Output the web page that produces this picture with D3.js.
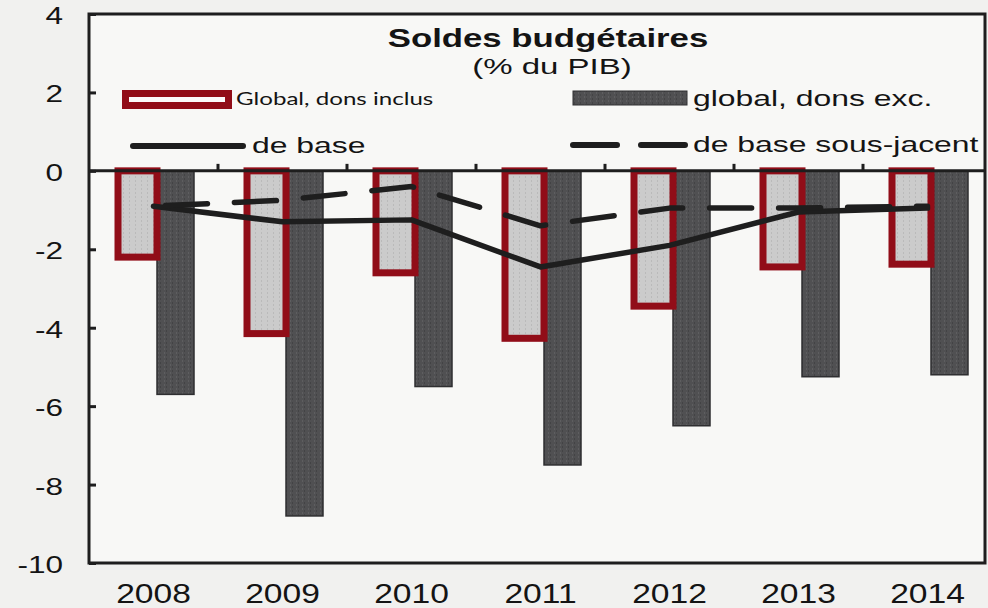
<!DOCTYPE html>
<html>
<head>
<meta charset="utf-8">
<script src="https://cdn.jsdelivr.net/npm/d3@7/dist/d3.min.js"></script>
<style>
  html, body { margin: 0; padding: 0; background: #f1f1ef; }
  svg { display: block; }
</style>
</head>
<body>
<svg id="chart" width="988" height="608"></svg>
<script>
// ---- Data ----
const years = ["2008", "2009", "2010", "2011", "2012", "2013", "2014"];
const globalInclus = [-2.2, -4.15, -2.6, -4.27, -3.45, -2.45, -2.38];   // Global, dons inclus
const globalExc    = [-5.7, -8.8, -5.5, -7.5, -6.5, -5.25, -5.2];        // global, dons exc.
const deBase       = [-0.9, -1.3, -1.25, -2.45, -1.9, -1.05, -0.95];     // de base
const sousJacent   = [-0.9, -0.75, -0.4, -1.4, -0.95, -0.95, -0.9];      // de base sous-jacent
const yTicks = [-10, -8, -6, -4, -2, 0, 2, 4];
const title = "Soldes budgétaires";
const subtitle = "(% du PIB)";
const legendLabels = ["Global, dons inclus", "global, dons exc.", "de base", "de base sous-jacent"];

// ---- Layout ----
const svg = d3.select("#chart");
const plot = { left: 89, top: 14, right: 985, bottom: 563 };
const x = d3.scaleBand().domain(years).range([89, 992]).paddingInner(0).paddingOuter(0);
const y = d3.scaleLinear().domain([-10, 4]).range([plot.bottom, plot.top]);
const bw = x.bandwidth();

const RED = "#910d18";
const INK = "#1e1e1e";

// patterns for scanned texture
const defs = svg.append("defs");
const pd = defs.append("pattern").attr("id", "darkTex").attr("patternUnits", "userSpaceOnUse")
  .attr("width", 6).attr("height", 4);
pd.append("rect").attr("width", 6).attr("height", 4).attr("fill", "#505052");
pd.append("rect").attr("x", 2).attr("width", 1).attr("height", 2).attr("fill", "#5e5e60");
pd.append("rect").attr("x", 4).attr("y", 2).attr("width", 1).attr("height", 2).attr("fill", "#434345");
const pl = defs.append("pattern").attr("id", "lightTex").attr("patternUnits", "userSpaceOnUse")
  .attr("width", 6).attr("height", 4);
pl.append("rect").attr("width", 6).attr("height", 4).attr("fill", "#cbcbcb");
pl.append("rect").attr("x", 3).attr("width", 1).attr("height", 2).attr("fill", "#bababa");

// plot background
svg.append("rect").attr("x", plot.left).attr("y", plot.top)
  .attr("width", plot.right - plot.left).attr("height", plot.bottom - plot.top)
  .attr("fill", "#f8f8f6");

function stretchText(g, str, px, py, size, sx, anchor, weight, family) {
  return g.append("text")
    .attr("transform", `translate(${px},${py}) scale(${sx},1)`)
    .attr("text-anchor", anchor || "start")
    .attr("font-family", family || "'Liberation Sans', Arial, sans-serif")
    .attr("font-size", size)
    .attr("font-weight", weight || "normal")
    .attr("fill", "#141414")
    .text(str);
}

// ---- Dark bars: global, dons exc. ----
svg.append("g").selectAll("rect").data(years).join("rect")
  .attr("x", d => x(d) + 68)
  .attr("width", 37)
  .attr("y", y(0))
  .attr("height", (d, i) => y(globalExc[i]) - y(0))
  .attr("fill", "url(#darkTex)")
  .attr("stroke", "#2e2e30").attr("stroke-width", 1.5);

// ---- Red outlined bars: Global, dons inclus ----
svg.append("g").selectAll("rect").data(years).join("rect")
  .attr("x", d => x(d) + 29)
  .attr("width", 39)
  .attr("y", y(0))
  .attr("height", (d, i) => y(globalInclus[i]) - y(0))
  .attr("fill", "url(#lightTex)")
  .attr("stroke", RED).attr("stroke-width", 7);

// ---- Lines ----
const line = d3.line().x((d, i) => x(years[i]) + bw / 2).y(d => y(d));
svg.append("path").datum(deBase).attr("d", line)
  .attr("fill", "none").attr("stroke", INK).attr("stroke-width", 5.5)
  .attr("stroke-linecap", "round").attr("stroke-linejoin", "round");
svg.append("path").datum(sousJacent).attr("d", line)
  .attr("fill", "none").attr("stroke", INK).attr("stroke-width", 5.5)
  .attr("stroke-dasharray", "42,27").attr("stroke-dashoffset", -12)
  .attr("stroke-linecap", "round").attr("stroke-linejoin", "round");

// ---- Zero line and category ticks ----
svg.append("line").attr("x1", plot.left).attr("x2", plot.right)
  .attr("y1", y(0)).attr("y2", y(0)).attr("stroke", INK).attr("stroke-width", 3);
svg.append("g").selectAll("line").data(years.slice(1)).join("line")
  .attr("x1", d => x(d)).attr("x2", d => x(d))
  .attr("y1", y(0)).attr("y2", y(0) - 7)
  .attr("stroke", INK).attr("stroke-width", 3);

// ---- Frame ----
svg.append("rect").attr("x", plot.left).attr("y", plot.top)
  .attr("width", plot.right - plot.left).attr("height", plot.bottom - plot.top)
  .attr("fill", "none").attr("stroke", INK).attr("stroke-width", 3);

// ---- Y axis (inward ticks) ----
const yAxis = d3.axisLeft(y).tickValues(yTicks).tickSize(-7).tickFormat("");
const ga = svg.append("g").attr("transform", `translate(${plot.left},0)`).call(yAxis);
ga.select(".domain").remove();
ga.selectAll(".tick line").attr("stroke", INK).attr("stroke-width", 3);

const labG = svg.append("g");
yTicks.forEach(t => {
  stretchText(labG, String(t), 63, y(t) + 10, 23, 1.37, "end");
});
years.forEach(yr => {
  stretchText(labG, yr, x(yr) + bw / 2, 603, 28, 1.2, "middle");
});

// ---- Title ----
stretchText(labG, title, 548, 47, 25, 1.39, "middle", "bold");
stretchText(labG, subtitle, 552, 74, 22, 1.5, "middle");

// ---- Legend ----
const lg = svg.append("g");
lg.append("rect").attr("x", 125.5).attr("y", 93.5).attr("width", 103).attr("height", 12)
  .attr("fill", "#fbfbfb").attr("stroke", RED).attr("stroke-width", 7);
stretchText(lg, legendLabels[0], 236, 105, 17, 1.42, "start", "normal", "Lato, 'Open Sans', sans-serif");

lg.append("rect").attr("x", 573).attr("y", 91).attr("width", 114).attr("height", 14)
  .attr("fill", "url(#darkTex)").attr("stroke", "#2e2e30").attr("stroke-width", 1);
stretchText(lg, legendLabels[1], 693, 106, 22, 1.45, "start");

lg.append("line").attr("x1", 133).attr("x2", 243).attr("y1", 146).attr("y2", 146)
  .attr("stroke", INK).attr("stroke-width", 6).attr("stroke-linecap", "round");
stretchText(lg, legendLabels[2], 252, 153, 22, 1.45, "start");

lg.append("line").attr("x1", 573).attr("x2", 685).attr("y1", 145).attr("y2", 145)
  .attr("stroke", INK).attr("stroke-width", 6).attr("stroke-linecap", "round")
  .attr("stroke-dasharray", "44,24");
stretchText(lg, legendLabels[3], 693, 152, 22, 1.45, "start");
</script>
</body>
</html>
